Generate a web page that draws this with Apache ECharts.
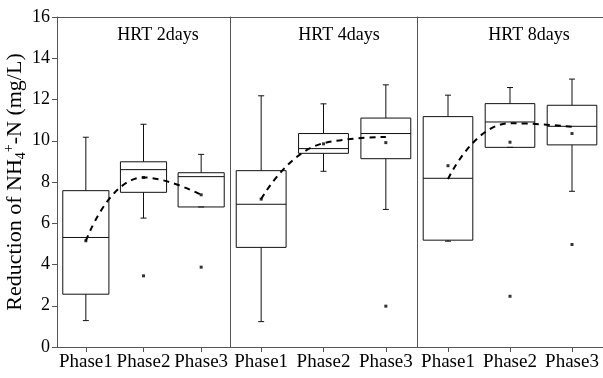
<!DOCTYPE html>
<html>
<head>
<meta charset="utf-8">
<script src="https://cdn.jsdelivr.net/npm/echarts@6/dist/echarts.min.js"></script>
<style>html,body{margin:0;padding:0;background:#fff}#c{width:603px;height:378px}</style>
</head>
<body>
<div id="c"></div>
<script>
// ---- data ----
const categories = ['Phase1', 'Phase2', 'Phase3'];
const groupTitles = ['HRT 2days', 'HRT 4days', 'HRT 8days'];
const yTicks = [0, 2, 4, 6, 8, 10, 12, 14, 16];
// box stats: [min, Q1, median, Q3, max]
const hrt2Box = [[1.28, 2.56, 5.31, 7.58, 10.17], [6.25, 7.50, 8.60, 8.98, 10.80], [6.79, 6.79, 8.26, 8.45, 9.34]];
const hrt4Box = [[1.23, 4.83, 6.92, 8.55, 12.18], [8.52, 9.39, 9.62, 10.35, 11.79], [6.67, 9.13, 10.35, 11.10, 12.71]];
const hrt8Box = [[5.13, 5.18, 8.18, 11.17, 12.21], [9.68, 9.68, 10.91, 11.80, 12.58], [7.55, 9.80, 10.70, 11.72, 12.99]];
// outliers: [category index, value]
const hrt2Out = [[1, 3.45], [2, 3.87]];
const hrt4Out = [[2, 1.98]];
const hrt8Out = [[1, 2.46], [2, 4.97]];
// mean markers
const hrt2Mean = [5.15, 8.22, 7.38];
const hrt4Mean = [7.17, 9.85, 9.91];
const hrt8Mean = [8.79, 9.93, 10.35];
// dashed trend curve
const hrt2Trend = [5.15, 8.22, 7.38];
const hrt4Trend = [7.17, 9.88, 10.18];
const hrt8Trend = [8.14, 10.85, 10.68];

const boxes = [hrt2Box, hrt4Box, hrt8Box];
const outs = [hrt2Out, hrt4Out, hrt8Out];
const means = [hrt2Mean, hrt4Mean, hrt8Mean];
const trends = [hrt2Trend, hrt4Trend, hrt8Trend];

const FONT = '"Liberation Serif", "Times New Roman", serif';
const AX = '#555';

const grids = [
  {left: 57, top: 17, width: 173, bottom: 31},
  {left: 230, top: 17, width: 187, bottom: 31},
  {left: 417, top: 17, width: 186, bottom: 31}
];

const xAxes = [], yAxes = [], series = [], titles = [];
const titleX = [153, 334, 524];

for (let g = 0; g < 3; g++) {
  xAxes.push({
    type: 'category', gridIndex: g, data: categories, position: 'bottom',
    axisLine: {show: true, lineStyle: {color: AX, width: 1}},
    axisTick: {show: true, alignWithLabel: true, length: 5, inside: false, lineStyle: {color: AX}},
    axisLabel: {interval: 0, margin: 6, color: '#000', fontFamily: FONT, fontSize: 19},
    splitLine: {show: false}
  });
  xAxes.push({
    type: 'category', gridIndex: g, data: categories, position: 'top',
    axisLine: {show: true, lineStyle: {color: AX, width: 1}},
    axisTick: {show: false}, axisLabel: {show: false}, splitLine: {show: false}
  });
  const y = {
    type: 'value', gridIndex: g, min: 0, max: 16, interval: 2, position: 'left',
    axisLine: {show: true, lineStyle: {color: AX, width: 1}},
    axisTick: {show: g === 0, length: 5, inside: false, lineStyle: {color: AX}},
    axisLabel: {show: g === 0, margin: 7, color: '#000', fontFamily: FONT, fontSize: 18,
      formatter: v => (yTicks.indexOf(v) >= 0 ? String(v) : '')},
    splitLine: {show: false}
  };
  if (g === 0) {
    y.name = 'Reduction of NH{sub|4}{sup|+}-N (mg/L)';
    y.nameLocation = 'middle';
    y.nameRotate = 90;
    y.nameGap = 27;
    y.nameTextStyle = {
      fontFamily: FONT, fontSize: 22, color: '#000', lineHeight: 26,
      rich: {
        sub: {fontFamily: FONT, fontSize: 14, color: '#000', lineHeight: 14, verticalAlign: 'bottom'},
        sup: {fontFamily: FONT, fontSize: 14, color: '#000', lineHeight: 14, verticalAlign: 'top'}
      }
    };
  }
  yAxes.push(y);

  titles.push({
    text: groupTitles[g], left: titleX[g], top: 21, textAlign: 'center',
    textStyle: {fontFamily: FONT, fontSize: 18, fontWeight: 'normal', color: '#000'}
  });

  const boxData = boxes[g].map((b, i) => [i].concat(b));
  series.push({
    type: 'custom', xAxisIndex: g * 2, yAxisIndex: g, z: 3,
    encode: {x: 0, y: [1, 2, 3, 4, 5]},
    data: boxData,
    renderItem: function (params, api) {
      const x = api.value(0);
      const band = api.size([1, 0])[0];
      const w = band * 0.8;
      const cap = 3;
      const pMin = api.coord([x, api.value(1)]);
      const pQ1 = api.coord([x, api.value(2)]);
      const pMed = api.coord([x, api.value(3)]);
      const pQ3 = api.coord([x, api.value(4)]);
      const pMax = api.coord([x, api.value(5)]);
      const cx = pMed[0];
      const st = {stroke: '#111', lineWidth: 1, fill: null};
      return {
        type: 'group',
        children: [
          {type: 'line', shape: {x1: cx, y1: pQ3[1], x2: cx, y2: pMax[1]}, style: st},
          {type: 'line', shape: {x1: cx, y1: pMin[1], x2: cx, y2: pQ1[1]}, style: st},
          {type: 'line', shape: {x1: cx - cap, y1: pMax[1], x2: cx + cap, y2: pMax[1]}, style: st},
          {type: 'line', shape: {x1: cx - cap, y1: pMin[1], x2: cx + cap, y2: pMin[1]}, style: st},
          {type: 'rect', shape: {x: cx - w / 2, y: pQ3[1], width: w, height: pQ1[1] - pQ3[1]}, style: {stroke: '#111', lineWidth: 1, fill: 'rgba(0,0,0,0)'}},
          {type: 'line', shape: {x1: cx - w / 2, y1: pMed[1], x2: cx + w / 2, y2: pMed[1]}, style: st}
        ]
      };
    }
  });
  series.push({
    type: 'line', xAxisIndex: g * 2, yAxisIndex: g, z: 4,
    data: trends[g], smooth: true, symbol: 'none',
    lineStyle: {color: '#000', width: 2, type: [6, 5]}
  });
  series.push({
    type: 'scatter', xAxisIndex: g * 2, yAxisIndex: g, z: 5,
    data: means[g].map((v, i) => [i, v]), symbol: 'rect', symbolSize: 3,
    itemStyle: {color: '#000'}
  });
  series.push({
    type: 'scatter', xAxisIndex: g * 2, yAxisIndex: g, z: 5,
    data: outs[g], symbol: 'rect', symbolSize: 3,
    itemStyle: {color: '#000'}
  });
}

const chart = echarts.init(document.getElementById('c'), null, {renderer: 'canvas'});
chart.setOption({
  animation: false,
  backgroundColor: '#fff',
  title: titles,
  grid: grids,
  xAxis: xAxes,
  yAxis: yAxes,
  series: series
});
</script>
</body>
</html>
